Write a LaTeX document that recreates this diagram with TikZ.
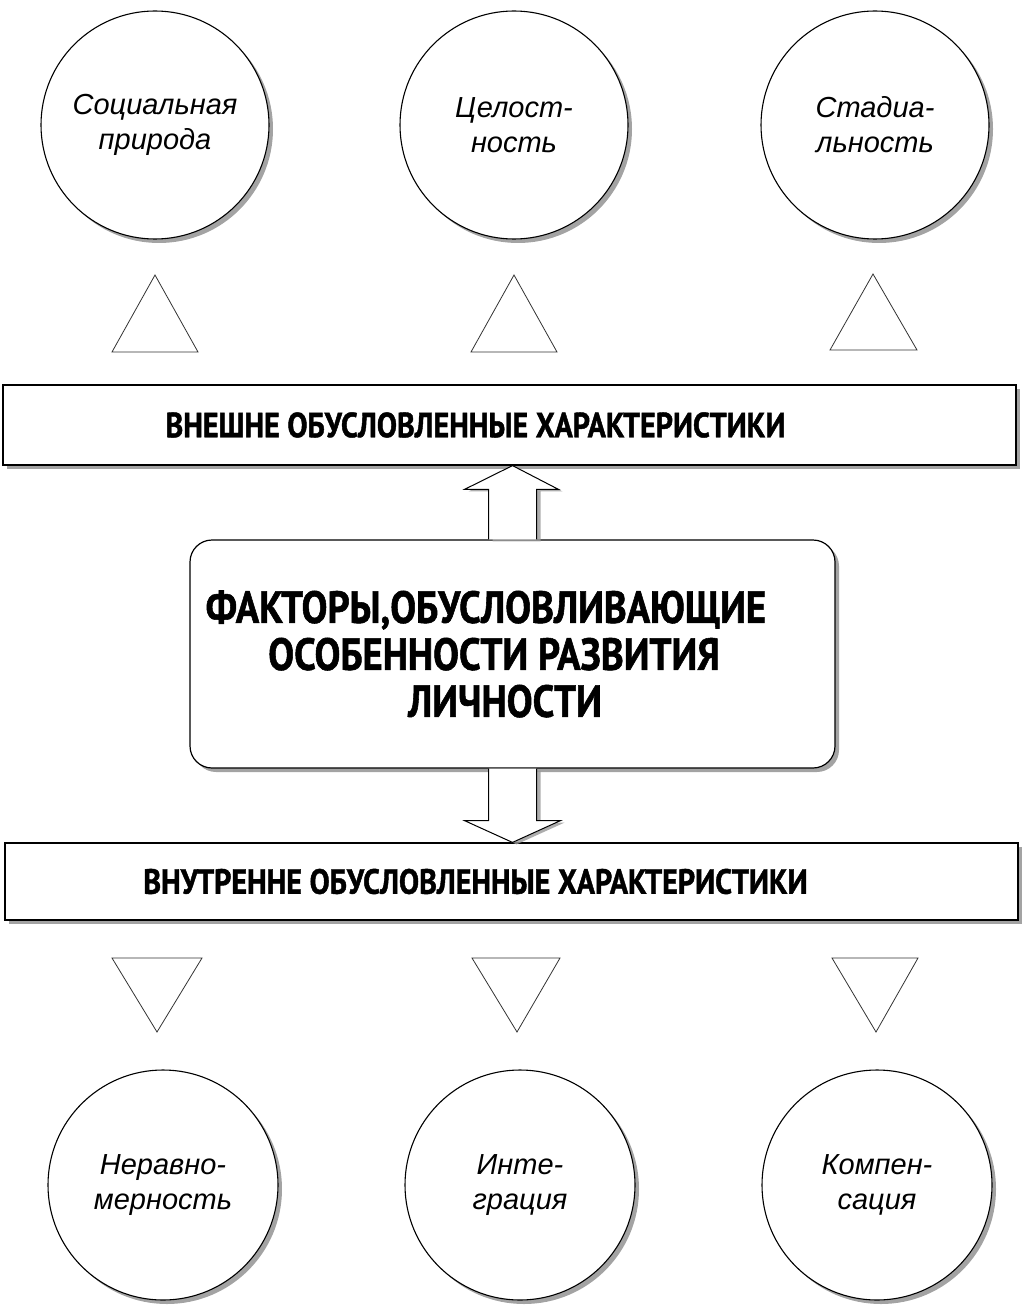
\documentclass[tikz,border=0pt]{standalone}
\usepackage{fontspec}
\setmainfont{Liberation Sans}
\newfontfamily\hdfont[FakeStretch=0.86,BoldFeatures={FakeBold=1.2}]{PT Sans}
\usetikzlibrary{calc,shadows}
\begin{document}
\begin{tikzpicture}[x=1pt,y=-1pt,
  shad/.style={drop shadow={shadow xshift=4pt,shadow yshift=-4pt,fill=black!45,opacity=0.8}},
  circ/.style={circle,draw,line width=1.1pt,fill=white,minimum size=228pt,inner sep=0pt,
    align=center,font=\fontsize{29}{35}\selectfont\itshape,shad},
  bar/.style={rectangle,draw,line width=1.2pt,fill=white,minimum width=1013pt,inner sep=0pt,
    font=\hdfont\bfseries\fontsize{35}{38}\selectfont,shad},
  mainbox/.style={rectangle,rounded corners=22pt,draw,line width=1.2pt,fill=white,
    minimum width=645pt,minimum height=228pt,inner sep=0pt,align=center,
    font=\hdfont\bfseries\fontsize{45}{47}\selectfont,shad},
  blockarrow/.style={draw,line width=1pt,fill=white,line join=miter,
    drop shadow={shadow xshift=4pt,shadow yshift=-2pt,fill=black!40,opacity=0.8}},
  tri/.style={draw=black!80,line width=0.8pt}]
\path[use as bounding box] (0,0) rectangle (1026,1305);

% top circles
\node[circ] (c1) at (155,125) {Социальная\\природа};
\node[circ] (c2) at (514,125) {Целост-\\ность};
\node[circ] (c3) at (875,125) {Стадиа-\\льность};

% up triangles
\draw[tri] (112,352) -- (198,352) -- (155,275) -- cycle;
\draw[tri] (471,352) -- (557,352) -- (514,275) -- cycle;
\draw[tri] (830,350) -- (917,350) -- (873,274) -- cycle;

% bars and main box
\node[bar,minimum height=80pt] (ext) at (509.5,425) {\hspace*{-68pt}ВНЕШНЕ ОБУСЛОВЛЕННЫЕ ХАРАКТЕРИСТИКИ};
\node[mainbox] (fac) at (512.5,654) {\hspace*{-53pt}ФАКТОРЫ,ОБУСЛОВЛИВАЮЩИЕ\\\hspace*{-37pt}ОСОБЕННОСТИ РАЗВИТИЯ\\\hspace*{-15pt}ЛИЧНОСТИ};
\node[bar,minimum height=77pt] (int) at (511.5,881.5) {\hspace*{-72pt}ВНУТРЕННЕ ОБУСЛОВЛЕННЫЕ ХАРАКТЕРИСТИКИ};

% block arrows
\draw[blockarrow] ($(fac.north)+(-24,0)$) -- ($(fac.north)+(-24,-50)$) -- ($(fac.north)+(-48,-50)$)
  -- (fac.north |- ext.south) -- ($(fac.north)+(46,-50)$) -- ($(fac.north)+(24,-50)$) -- ($(fac.north)+(24,0)$);
\draw[blockarrow] ($(fac.south)+(-24,0)$) -- ($(fac.south)+(-24,52)$) -- ($(fac.south)+(-48,52)$)
  -- (fac.south |- int.north) -- ($(fac.south)+(48,52)$) -- ($(fac.south)+(24,52)$) -- ($(fac.south)+(24,0)$);

% down triangles
\draw[tri] (112,958) -- (202,958) -- (157,1032) -- cycle;
\draw[tri] (472,958) -- (560,958) -- (517,1032) -- cycle;
\draw[tri] (832,958) -- (918,958) -- (876,1032) -- cycle;

% bottom circles
\node[circ,minimum size=230pt] (d1) at (163,1185) {Неравно-\\мерность};
\node[circ,minimum size=230pt] (d2) at (520,1185) {Инте-\\грация};
\node[circ,minimum size=230pt] (d3) at (877,1185) {Компен-\\сация};
\end{tikzpicture}
\end{document}
